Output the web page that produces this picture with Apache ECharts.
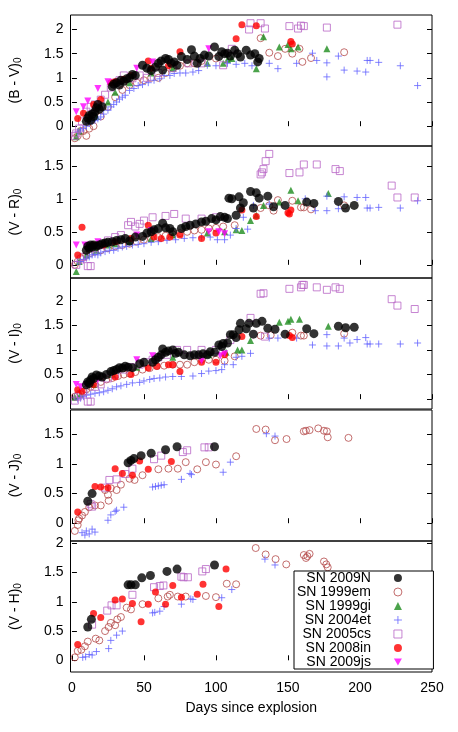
<!DOCTYPE html>
<html>
<head>
<meta charset="utf-8">
<title>SN colour curves</title>
<script src="https://cdn.jsdelivr.net/npm/echarts@6/dist/echarts.min.js"></script>
<style>
  html, body { margin: 0; padding: 0; background: #fff; }
  #colour-curves { width: 458px; height: 732px; }
</style>
</head>
<body>
<div id="colour-curves"></div>
<script>
// tick labels
const dayTicks = [0, 50, 100, 150, 200, 250]
const bvTicks = [0, 0.5, 1, 1.5, 2]
const vrTicks = [0, 0.5, 1, 1.5]
const viTicks = [0, 0.5, 1, 1.5, 2]
const vjTicks = [0, 0.5, 1, 1.5]
const vhTicks = [0, 0.5, 1, 1.5, 2]

// [days since explosion, colour]
// (B - V)0
const bv09N = [[10,0.1],[11,0.17],[12,0.22],[13,0.12],[14,0.25],[15,0.2],[16,0.3],[17,0.38],[18,0.45],[19,0.35],[21,0.4],[28,0.82],[29,0.87],[31,0.9],[33,0.85],[34,0.95],[36,0.93],[38,0.98],[40,1.0],[42,1.07],[44,1.05],[49,1.26],[52,1.2],[55,1.15],[58,1.22],[60,1.3],[62,1.35],[63,1.16],[65,1.4],[67,1.38],[69,1.3],[71,1.33],[73,1.26],[76,1.44],[80,1.38],[83,1.58],[85,1.45],[87,1.3],[89,1.4],[92,1.47],[95,1.45],[99,1.64],[102,1.44],[104,1.54],[106,1.5],[108,1.51],[110,1.45],[113,1.57],[115,1.5],[117,1.43],[121,1.57],[124,1.47],[127,1.5],[129,1.33],[130,1.4]]
const bv99em = [[2,-0.25],[4,-0.2],[6,-0.1],[8,-0.1],[10,-0.2],[12,-0.05],[15,0],[20,0.2],[25,0.4],[30,0.6],[35,0.75],[40,0.85],[45,0.9],[50,0.95],[55,1.0],[60,1.0],[65,1.1],[70,1.2],[75,1.25],[80,1.3],[85,1.3],[90,1.35],[100,1.4],[131,1.82],[137,1.52],[143,1.45],[148,1.6],[153,1.5],[158,1.6],[160,1.33],[166,1.41],[189,1.53]]
const bv99gi = [[3,-0.22],[5,-0.1],[17,0.2],[25,0.5],[30,0.7],[40,0.9],[55,1.1],[70,1.2],[94,1.3],[105,1.3],[108,1.38],[111,1.4],[128,1.19],[133,1.85],[144,1.64],[150,1.69],[152,1.6],[157,1.64],[177,1.6]]
const bv04et = [[4,-0.12],[6,-0.08],[8,-0.05],[10,0],[12,0.06],[14,0.1],[16,0.12],[18,0.15],[20,0.19],[22,0.25],[25,0.33],[27,0.4],[29,0.45],[31,0.5],[33,0.56],[35,0.6],[37,0.64],[40,0.74],[43,0.78],[46,0.84],[49,0.86],[53,0.9],[57,0.95],[61,0.98],[64,1.05],[68,1.05],[71,1.09],[75,1.1],[79,1.1],[84,1.12],[88,1.15],[94,1.26],[100,1.25],[108,1.3],[114,1.28],[120,1.3],[125,1.25],[137,1.3],[143,1.19],[156,1.3],[167,1.51],[170,1.36],[177,1.31],[177,1.02],[185,1.45],[189,1.16],[198,1.14],[204,1.12],[205,1.36],[207,1.36],[213,1.32],[228,1.25],[240,0.84]]
const bv05cs = [[2,-0.2],[3,-0.15],[5,-0.05],[7,0.1],[10,0.3],[13,0.4],[16,0.45],[20,0.55],[23,0.65],[27,0.8],[30,0.9],[33,0.95],[36,1.05],[42,0.99],[47,1.05],[52,1.0],[60,1.1],[70,1.2],[81,1.3],[90,1.3],[105,1.26],[111,1.6],[123,2.0],[124,2.13],[131,2.13],[134,2.02],[151,2.07],[157,2.02],[159,2.08],[161,2.07],[177,2.04],[226,2.1]]
const bv08in = [[4,0.16],[8,0.27],[15,0.45],[20,0.55],[27,0.9],[30,0.92],[36,0.97],[41,1.05],[53,1.35],[55,1.2],[67,1.25],[75,1.54],[114,1.81],[118,2.1],[128,2.08],[152,1.75],[153,1.7]]
const bv09js = [[3,0.3],[8,0.4],[11,0.52],[18,0.78],[25,0.92],[45,1.2],[56,1.33],[95,1.6]]

// (V - R)0
const vr09N = [[10,0.22],[11,0.28],[12,0.25],[13,0.3],[14,0.27],[15,0.3],[17,0.28],[19,0.3],[21,0.32],[23,0.33],[25,0.34],[28,0.35],[31,0.37],[34,0.38],[37,0.4],[40,0.36],[44,0.42],[49,0.43],[52,0.48],[55,0.5],[57,0.53],[60,0.55],[63,0.63],[65,0.56],[68,0.55],[70,0.5],[76,0.55],[79,0.58],[82,0.6],[86,0.62],[90,0.65],[93,0.66],[97,0.7],[100,0.68],[103,0.73],[106,0.72],[108,0.7],[109,1.01],[111,1.0],[114,0.75],[116,1.03],[117,0.86],[119,0.94],[124,1.11],[126,0.86],[128,1.09],[130,1.01],[136,1.04],[140,0.88],[148,0.9],[163,0.95],[168,0.93],[185,0.96],[190,0.86],[196,0.9]]
const vr99em = [[2,0.0],[4,0.05],[6,0.1],[8,0.12],[10,0.15],[13,0.18],[16,0.2],[20,0.22],[25,0.25],[30,0.28],[35,0.3],[40,0.32],[45,0.35],[50,0.38],[55,0.4],[60,0.42],[65,0.44],[70,0.46],[75,0.48],[80,0.5],[85,0.52],[90,0.53],[95,0.55],[100,0.56],[105,0.58],[113,0.6],[131,0.86],[137,0.9],[140,0.82],[143,0.98],[153,0.97],[159,0.87],[161,0.87],[166,0.84],[189,0.9]]
const vr99gi = [[3,-0.1],[5,0.05],[10,0.15],[17,0.22],[25,0.3],[30,0.32],[40,0.35],[55,0.4],[70,0.45],[94,0.48],[106,0.5],[114,0.53],[118,0.52],[124,0.67],[128,0.75],[133,0.9],[144,0.95],[152,1.13],[157,0.97],[178,1.08]]
const vr04et = [[4,0.05],[6,0.05],[8,0.08],[10,0.1],[12,0.12],[14,0.15],[16,0.16],[18,0.15],[20,0.18],[23,0.2],[26,0.22],[29,0.22],[32,0.25],[35,0.27],[38,0.28],[42,0.3],[46,0.31],[50,0.32],[55,0.34],[60,0.35],[66,0.37],[72,0.38],[78,0.4],[84,0.41],[90,0.42],[96,0.42],[101,0.38],[106,0.38],[110,0.45],[114,0.55],[119,0.72],[122,0.54],[126,0.9],[137,0.92],[162,1.0],[169,0.82],[177,1.04],[177,0.82],[185,0.85],[189,1.03],[198,1.02],[204,1.02],[205,0.86],[207,0.86],[213,0.87],[228,0.86],[240,0.97]]
const vr05cs = [[3,0.0],[6,0.08],[8,0.12],[11,-0.02],[13,-0.02],[16,0.25],[20,0.3],[25,0.37],[30,0.42],[34,0.45],[39,0.6],[41,0.65],[44,0.58],[47,0.62],[50,0.67],[56,0.72],[65,0.74],[71,0.77],[79,0.7],[90,0.7],[100,0.72],[131,1.37],[132,1.4],[133,1.45],[134.5,1.57],[137,1.68],[151,1.39],[158,1.4],[161,1.52],[170,1.52],[183,1.45],[186,1.42],[222,1.2],[226,1.02],[238,1.02]]
const vr08in = [[4,0.15],[7,0.57],[15,0.3],[22,0.3],[30,0.35],[41,0.4],[53,0.6],[57,0.42],[62,0.4],[68,0.42],[75,0.45],[90,0.4],[100,0.48],[118,0.83],[128,0.73],[150,0.79],[151,0.77],[152,0.83]]
const vr09js = [[3,0.3],[9,0.3],[18,0.35],[45,0.45],[55,0.52],[95,0.5],[102,0.5],[106,0.47]]

// (V - I)0
const vi09N = [[10,0.29],[11,0.35],[12,0.32],[13,0.39],[14,0.45],[15,0.42],[17,0.49],[19,0.47],[21,0.45],[24,0.5],[27,0.56],[29,0.58],[31,0.6],[33,0.64],[35,0.63],[37,0.67],[39,0.65],[42,0.64],[47,0.72],[50,0.75],[56,0.75],[58,0.8],[60,0.85],[62,0.9],[63,1.02],[65,0.95],[67,0.98],[70,1.0],[72,0.93],[74,0.95],[78,0.9],[82,0.88],[85,0.9],[88,0.9],[91,0.92],[94,0.9],[96,0.96],[99,0.95],[102,1.1],[104,1.07],[105,1.13],[108,1.14],[110,1.31],[112,1.31],[114,1.25],[116,1.41],[117,1.54],[121,1.43],[123,1.54],[126,1.32],[128,1.54],[132,1.58],[136,1.44],[141,1.42],[148,1.32],[163,1.43],[168,1.33],[185,1.48],[190,1.45],[196,1.46]]
const vi99em = [[2,0.05],[4,0.08],[6,0.1],[8,0.15],[10,0.2],[13,0.25],[16,0.3],[20,0.35],[24,0.4],[28,0.43],[32,0.47],[36,0.5],[40,0.52],[44,0.55],[49,0.6],[54,0.63],[59,0.67],[64,0.68],[70,0.7],[75,0.7],[80,0.7],[85,0.75],[90,0.81],[95,0.8],[100,0.8],[106,0.78],[113,0.87],[131,1.29],[138,1.3],[153,1.35],[159,1.29],[161,1.29],[189,1.33]]
const vi99gi = [[2,0.04],[6,0.1],[15,0.3],[28,0.5],[45,0.65],[70,0.85],[95,0.9],[107,0.95],[115,1.0],[118,1.0],[124,1.19],[144,1.56],[150,1.58],[152,1.62],[158,1.62],[178,1.48]]
const vi04et = [[4,0],[6,0.02],[8,0.05],[10,0.08],[13,0.1],[16,0.12],[19,0.13],[22,0.15],[25,0.18],[28,0.21],[31,0.25],[34,0.27],[38,0.3],[42,0.33],[47,0.34],[50,0.37],[54,0.4],[57,0.42],[61,0.43],[65,0.45],[70,0.46],[76,0.46],[84,0.47],[90,0.52],[95,0.57],[100,0.58],[104,0.6],[106,0.7],[112,0.7],[114,0.85],[118,0.87],[124,0.93],[137,1.24],[143,1.24],[156,1.24],[167,1.1],[177,1.31],[177,1.08],[185,1.08],[189,1.24],[193,1.14],[198,1.21],[204,1.25],[205,1.12],[207,1.12],[213,1.12],[228,1.12],[240,1.14]]
const vi05cs = [[2,-0.03],[4,0.05],[6,0.1],[8,0.15],[11,-0.05],[13,-0.05],[16,0.25],[20,0.3],[25,0.42],[30,0.5],[36,0.6],[41,0.65],[47,0.7],[52,0.75],[56,0.8],[60,0.85],[66,0.9],[73,1.0],[80,1.0],[90,1.0],[100,1.0],[110,1.2],[124,1.65],[134,1.27],[131,2.14],[133,2.15],[151,2.24],[159,2.27],[160,2.32],[161,2.32],[170,2.27],[177,2.22],[183,2.27],[186,2.24],[222,2.03],[226,1.9],[238,1.83]]
const vi08in = [[4,0.19],[7,0.16],[15,0.3],[30,0.45],[41,0.5],[53,0.63],[59,0.67],[67,0.7],[70,0.7],[75,0.56],[90,0.75],[100,0.75],[106,0.9],[118,1.27],[151,1.29],[153,1.25]]
const vi09js = [[3,0.3],[6,0.25],[10,0.3],[18,0.4],[45,0.8],[56,0.88],[90,0.78],[103,0.88],[106,0.92]]

// (V - J)0
const vj09N = [[11,0.37],[14,0.5],[39,1.02],[41,1.06],[43,1.09],[48,1.14],[55,1.18],[65,1.24],[73,1.29],[99,1.29]]
const vj99em = [[2,-0.13],[4,-0.03],[4.5,0.05],[5,0.08],[7,0.13],[9,0.19],[12,0.27],[16,0.3],[20,0.3],[23,0.56],[25,0.48],[25.5,0.38],[27,0.59],[31,0.56],[34,0.65],[40,0.75],[43.5,0.73],[49,0.81],[60,0.91],[67,0.92],[73.5,0.92],[79,1.03],[87,0.91],[93,1.03],[100,0.99],[114,1.13],[128,1.59],[134.5,1.58],[141,1.4],[149,1.42],[161,1.55],[162.5,1.56],[165,1.57],[171,1.6],[175,1.56],[177,1.55],[177.6,1.45],[192,1.44]]
const vj04et = [[7,-0.16],[9,-0.2],[10,-0.13],[12,-0.18],[14,-0.1],[16,-0.15],[25,0.05],[27,0.14],[30,0.2],[31,0.22],[36,0.27],[56,0.61],[58,0.62],[60,0.63],[62,0.64],[64,0.65],[76,0.74],[82,0.84],[83,0.82],[105,0.86],[110,1.03],[135,1.51],[141,1.47]]
const vj05cs = [[13,0.32],[14,0.28],[23,0.6],[26,0.73],[31,0.74],[37,0.83],[42,0.92],[57,1.08],[62,1.14],[77,1.2],[80,1.23],[92,1.28],[95,1.28]]
const vj08in = [[4,0.19],[16,0.62],[20,0.61],[25,0.6],[30,0.92],[35,0.84],[42,0.81],[47,1.05],[53,0.91],[69,1.04]]

// (V - H)0
const vh09N = [[11,0.57],[13.5,0.7],[39,1.29],[41,1.29],[44,1.29],[48.5,1.41],[54.5,1.45],[66,1.52],[73,1.56],[99,1.63]]
const vh99em = [[2,0.05],[4,0.16],[6.5,0.18],[9,0.24],[11,0.32],[16.5,0.37],[19,0.34],[23,0.5],[25.5,0.57],[27,0.64],[30,0.6],[31.5,0.7],[34,0.74],[38,0.9],[41,0.87],[49,0.96],[60,1.06],[66.5,1.09],[68,1.12],[73.5,1.09],[79,1.09],[93,1.1],[100,1.08],[107.5,1.31],[114,1.3],[127.6,1.92],[134.5,1.81],[141.4,1.73],[148.8,1.64],[161,1.8],[162.5,1.75],[163.5,1.78],[165,1.82],[175,1.69],[176.6,1.64],[177.6,1.59]]
const vh04et = [[7.5,0.05],[9.5,0.06],[12,0.1],[14,0.09],[17,0.15],[25.5,0.2],[27,0.34],[31,0.43],[35,0.5],[56,0.81],[57.5,0.82],[61,0.84],[64,0.92],[76,0.96],[82.5,1.05],[84,1.04],[104,1.07],[111,1.21],[134,1.73],[141,1.63]]
const vh05cs = [[14,0.61],[24.5,0.85],[27.5,0.94],[31,0.94],[42,1.12],[57,1.25],[61,1.27],[63.5,1.28],[76,1.43],[77.5,1.42],[80.5,1.42],[90.5,1.52],[93,1.56]]
const vh08in = [[4,0.27],[15,0.8],[20,0.73],[30,1.03],[35,1.05],[42,0.97],[48,0.66],[53,0.96],[58,1.17],[65,0.96],[70,1.28],[76,1.08],[87,1.13],[91,1.3],[102,0.92],[107,1.56]]

const snNames = ['SN 2009N', 'SN 1999em', 'SN 1999gi', 'SN 2004et', 'SN 2005cs', 'SN 2008in', 'SN 2009js']

// 画图
function initChart() {
  var myChart = echarts.init(document.getElementById('colour-curves'))
  const font = 'Liberation Sans, Arial, Helvetica, sans-serif'

  // look of each supernova
  const look = {
    'SN 2009N': {symbol: 'circle', size: 9, itemStyle: {color: '#000000'}},
    'SN 1999em': {symbol: 'circle', size: 7, itemStyle: {color: 'rgba(0,0,0,0)', borderColor: '#b44a4a', borderWidth: 1}},
    'SN 1999gi': {symbol: 'triangle', size: 7, itemStyle: {color: '#1e8c1e'}},
    'SN 2004et': {symbol: 'path://M0,5L10,5M5,0L5,10', size: 7, itemStyle: {color: 'rgba(0,0,0,0)', borderColor: '#6464ff', borderWidth: 1}},
    'SN 2005cs': {symbol: 'rect', size: 7, itemStyle: {color: 'rgba(0,0,0,0)', borderColor: '#b865c6', borderWidth: 1}},
    'SN 2008in': {symbol: 'circle', size: 7, itemStyle: {color: '#ff0000'}},
    'SN 2009js': {symbol: 'path://M0,0L10,0L5,8.66Z', size: 7, itemStyle: {color: '#ff00ff'}}
  }

  const panels = [
    {label: '(B - V){s|0}', top: 15, height: 131, min: -0.41, max: 2.3, ticks: bvTicks,
      sets: {'SN 1999em': bv99em, 'SN 1999gi': bv99gi, 'SN 2004et': bv04et, 'SN 2005cs': bv05cs, 'SN 2008in': bv08in, 'SN 2009js': bv09js, 'SN 2009N': bv09N}},
    {label: '(V - R){s|0}', top: 146, height: 132, min: -0.2, max: 1.8, ticks: vrTicks,
      sets: {'SN 1999em': vr99em, 'SN 1999gi': vr99gi, 'SN 2004et': vr04et, 'SN 2005cs': vr05cs, 'SN 2008in': vr08in, 'SN 2009js': vr09js, 'SN 2009N': vr09N}},
    {label: '(V - I){s|0}', top: 278, height: 131, min: -0.2, max: 2.46, ticks: viTicks,
      sets: {'SN 1999em': vi99em, 'SN 1999gi': vi99gi, 'SN 2004et': vi04et, 'SN 2005cs': vi05cs, 'SN 2008in': vi08in, 'SN 2009js': vi09js, 'SN 2009N': vi09N}},
    {label: '(V - J){s|0}', top: 410, height: 131, min: -0.3, max: 1.91, ticks: vjTicks,
      sets: {'SN 1999em': vj99em, 'SN 2004et': vj04et, 'SN 2005cs': vj05cs, 'SN 2008in': vj08in, 'SN 2009N': vj09N}},
    {label: '(V - H){s|0}', top: 541, height: 131, min: -0.2, max: 2.04, ticks: vhTicks,
      sets: {'SN 1999em': vh99em, 'SN 2004et': vh04et, 'SN 2005cs': vh05cs, 'SN 2008in': vh08in, 'SN 2009N': vh09N}}
  ]

  const grid = [], xAxis = [], yAxis = [], series = []
  const tickStyle = {color: '#000', width: 1}
  panels.forEach((p, i) => {
    const last = i === panels.length - 1
    grid.push({left: 69, right: 26, top: p.top, height: p.height, show: true, borderColor: '#000', borderWidth: 1})
    xAxis.push({
      gridIndex: i, type: 'value', min: -1, max: 250,
      axisLine: {show: false}, splitLine: {show: false},
      axisTick: {inside: true, length: 5, customValues: dayTicks, lineStyle: tickStyle},
      axisLabel: {show: last, customValues: dayTicks, margin: 9, color: '#000', fontSize: 14, fontFamily: font},
      name: last ? 'Days since explosion' : '', nameLocation: 'middle', nameGap: 29,
      nameTextStyle: {color: '#000', fontSize: 14, fontFamily: font}
    })
    // left axis with labels
    yAxis.push({
      gridIndex: i, type: 'value', min: p.min, max: p.max, position: 'left',
      axisLine: {show: false}, splitLine: {show: false},
      axisTick: {inside: true, length: 5, customValues: p.ticks, lineStyle: tickStyle},
      axisLabel: {customValues: p.ticks, margin: 7, color: '#000', fontSize: 14, fontFamily: font},
      name: p.label, nameLocation: 'middle', nameGap: 47,
      nameTextStyle: {color: '#000', fontSize: 14, fontFamily: font,
        rich: {s: {fontSize: 10, fontFamily: font, color: '#000', padding: [7, 0, 0, 0]}}}
    })
    // mirrored ticks on the right
    yAxis.push({
      gridIndex: i, type: 'value', min: p.min, max: p.max, position: 'right',
      axisLine: {show: false}, splitLine: {show: false},
      axisTick: {inside: true, length: 5, customValues: p.ticks, lineStyle: tickStyle},
      axisLabel: {show: false, customValues: p.ticks}
    })
    Object.keys(p.sets).forEach(name => {
      const l = look[name]
      series.push({
        name: name, type: 'scatter', xAxisIndex: i, yAxisIndex: 2 * i,
        symbol: l.symbol, symbolSize: l.size, itemStyle: l.itemStyle,
        data: p.sets[name], silent: true
      })
    })
  })

  var option = {
    animation: false,
    grid: grid,
    xAxis: xAxis,
    yAxis: yAxis,
    legend: {
      data: snNames.map(n => ({name: n, itemStyle: {borderWidth: look[n].itemStyle.borderWidth || 0}})),
      orient: 'vertical',
      align: 'right',
      left: 294, top: 571,
      padding: [0, 31, 0, 3],
      itemGap: 0,
      itemWidth: 8, itemHeight: 8,
      backgroundColor: '#fff',
      borderColor: '#000', borderWidth: 1,
      textStyle: {color: '#000', fontSize: 14, fontFamily: font, lineHeight: 14, padding: [0, 18, 0, 0]},
      selectedMode: false,
      z: 10
    },
    series: series
  }
  myChart.setOption(option)
}

initChart()
</script>
</body>
</html>
